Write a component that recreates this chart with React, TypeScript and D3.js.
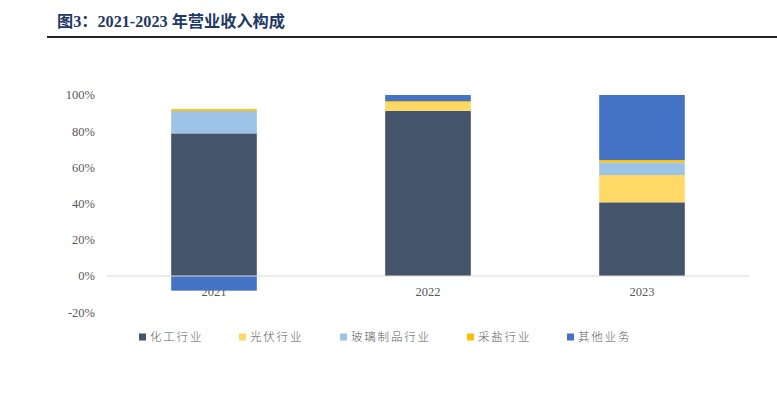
import React from 'react'
import * as d3 from 'd3'

const years = ['2021', '2022', '2023']
const seriesNames = ['化工行业', '光伏行业', '玻璃制品行业', '采盐行业', '其他业务']
const seriesColors = ['#44546A', '#FFD966', '#9DC3E6', '#FFC000', '#4472C4']
// share of revenue (%) per year
const chemical = [78.8, 91.2, 40.7]
const solar = [0, 4.6, 15.1]
const glass = [12.4, 0, 7.0]
const salt = [1.0, 0.8, 1.3]
const other = [-8.1, 3.4, 35.9]
const yTicks = [-20, 0, 20, 40, 60, 80, 100]

const width = 777
const height = 397

export default function App() {
  const rows = years.map((y, i) => ({
    year: y,
    '化工行业': chemical[i],
    '光伏行业': solar[i],
    '玻璃制品行业': glass[i],
    '采盐行业': salt[i],
    '其他业务': other[i],
  }))
  const stacked = d3.stack<any>().keys(seriesNames).offset(d3.stackOffsetDiverging)(rows)

  const x = d3.scaleBand().domain(years).range([107, 749]).paddingInner(0.6).paddingOuter(0.3)
  const y = d3.scaleLinear().domain([-20, 100]).range([312.2, 95])
  const color = d3.scaleOrdinal<string, string>().domain(seriesNames).range(seriesColors)

  const legendX = [139, 239, 340, 467, 567]

  return (
    <svg width={width} height={height} style={{ position: 'absolute', left: 0, top: 0, background: '#fff' }}>
      <text x={57} y={27} fontFamily="'Liberation Serif', 'Noto Sans CJK SC', serif" fontWeight="bold" fontSize={16.2} fill="#1F3864">
        图3：2021-2023 年营业收入构成
      </text>
      <rect x={47} y={36} width={730} height={2} fill="#222" />

      {yTicks.map(t => (
        <text key={t} x={95} y={y(t)} dy="0.35em" textAnchor="end" fontFamily="'Liberation Serif', serif" fontSize={12.5} fill="#595959">
          {t}%
        </text>
      ))}

      {years.map(yr => (
        <text key={yr} x={x(yr)! + x.bandwidth() / 2} y={292} dy="0.35em" textAnchor="middle" fontFamily="'Liberation Serif', serif" fontSize={12.5} fill="#595959">
          {yr}
        </text>
      ))}

      {stacked.map(s => (
        <g key={s.key} fill={color(s.key)}>
          {s.map((d, i) => {
            const y0 = y(d[0])
            const y1 = y(d[1])
            const h = Math.abs(y0 - y1)
            if (h < 0.01) return null
            return <rect key={i} x={x(years[i])} y={Math.min(y0, y1)} width={x.bandwidth()} height={h} />
          })}
        </g>
      ))}

      <line x1={107} x2={749} y1={y(0)} y2={y(0)} stroke="#D9D9D9" strokeWidth={1} />

      {seriesNames.map((n, i) => (
        <g key={n} transform={`translate(${legendX[i]},337)`}>
          <rect x={0} y={-3.5} width={7} height={7} fill={seriesColors[i]} />
          <text x={11} y={0} dy="0.35em" fontFamily="'Noto Sans CJK SC', sans-serif" fontWeight={300} fontSize={11.5} letterSpacing={1.8} fill="#595959">
            {n}
          </text>
        </g>
      ))}
    </svg>
  )
}
